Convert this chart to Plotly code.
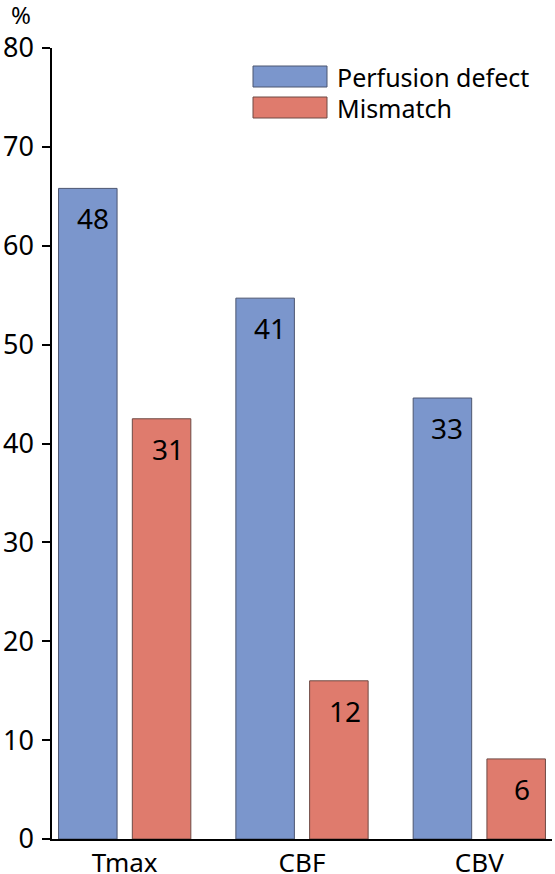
import plotly.graph_objects as go

categories = ["Tmax", "CBF", "CBV"]
perfusion_pct = [65.8, 54.7, 44.6]
mismatch_pct = [42.5, 16.0, 8.1]
perfusion_n = [48, 41, 33]
mismatch_n = [31, 12, 6]
yticks = [0, 10, 20, 30, 40, 50, 60, 70, 80]

BLUE = "#7b96cc"
RED = "#df7b6d"
FONT = "Noto Sans"
W = 0.33
OFF_BLUE = -0.373
OFF_RED = 0.043

fig = go.Figure()
xs = list(range(len(categories)))

fig.add_trace(go.Bar(
    x=xs, y=perfusion_pct, width=W, offset=OFF_BLUE,
    marker=dict(color=BLUE, line=dict(color="#4d5670", width=1)),
    name="Perfusion defect", showlegend=False,
))
fig.add_trace(go.Bar(
    x=xs, y=mismatch_pct, width=W, offset=OFF_RED,
    marker=dict(color=RED, line=dict(color="#6e4a44", width=1)),
    name="Mismatch", showlegend=False,
))

# count labels near top of each bar
for i in xs:
    fig.add_annotation(x=i + OFF_BLUE + W / 2, y=perfusion_pct[i], text=str(perfusion_n[i]),
                       showarrow=False, yanchor="top", yshift=-9, xshift=5,
                       font=dict(family=FONT, size=28, color="black"))
    fig.add_annotation(x=i + OFF_RED + W / 2, y=mismatch_pct[i], text=str(mismatch_n[i]),
                       showarrow=False, yanchor="top", yshift=-9, xshift=6,
                       font=dict(family=FONT, size=28, color="black"))

# legend drawn by hand to get the wide boxes
legend_items = [("Perfusion defect", BLUE, "#4d5670"), ("Mismatch", RED, "#6e4a44")]
for k, (label, col, edge) in enumerate(legend_items):
    y0 = 66 + k * 31
    fig.add_shape(type="rect", xref="paper", yref="paper",
                  x0=(253 - 52) / 500, x1=(327 - 52) / 500,
                  y0=(839 - y0 - 21) / 791, y1=(839 - y0) / 791,
                  fillcolor=col, line=dict(color=edge, width=1))
    fig.add_annotation(xref="paper", yref="paper", x=(335 - 52) / 500, y=(839 - y0 - 11) / 791,
                       text=label, showarrow=False, xanchor="left", yanchor="middle",
                       font=dict(family=FONT, size=25, color="black"))

fig.add_annotation(xref="paper", yref="paper", x=(21 - 52) / 500, y=(839 - 14) / 791,
                   text="%", showarrow=False, xanchor="center", yanchor="middle",
                   font=dict(family=FONT, size=24, color="black"))

fig.update_layout(
    width=555, height=874,
    margin=dict(l=52, r=3, t=48, b=35),
    plot_bgcolor="white", paper_bgcolor="white",
    barmode="overlay",
    font=dict(family=FONT, color="black"),
)
fig.update_xaxes(
    tickmode="array", tickvals=xs, ticktext=categories,
    range=[-0.41, 2.41], showline=True, linecolor="black", linewidth=1.5,
    ticks="", showgrid=False, zeroline=False, automargin=False,
    tickfont=dict(family=FONT, size=26), ticklabelstandoff=0, fixedrange=True,
)
fig.update_yaxes(
    range=[0, 80], tickvals=yticks, showline=True, linecolor="black", linewidth=1.5,
    ticks="outside", ticklen=8, tickcolor="black", tickwidth=1.5,
    showgrid=False, zeroline=False, ticklabelstandoff=3, automargin=False,
    tickfont=dict(family=FONT, size=27),
)

# drop the browser's default 8px body margin so the figure sits at the page corner
fig.write_html("out.html", config={"displayModeBar": False},
               post_script="document.body.style.margin='0px';")
